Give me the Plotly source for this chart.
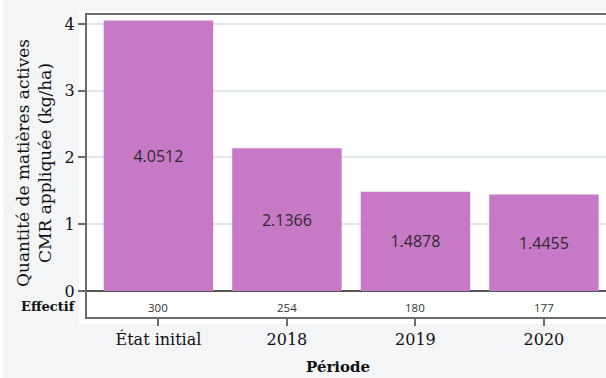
import plotly.graph_objects as go

# Data
periodes = ["État initial", "2018", "2019", "2020"]
quantites = [4.0512, 2.1366, 1.4878, 1.4455]
effectifs = [300, 254, 180, 177]
y_ticks = [0, 1, 2, 3, 4]

W, H = 606, 378
L, R, T, B = 87, 0, 15, 61          # plot-area margins (px)
PW, PH = W - L - R, H - T - B

def px_x(px):
    return (px - L) / PW

def px_y(py):
    return (H - B - py) / PH

serif = "DejaVu Serif"
sans = "Open Sans"
frame_col = "#6b6b6b"

fig = go.Figure()
fig.add_trace(go.Bar(
    x=periodes,
    y=quantites,
    marker=dict(color="#c779c7", line=dict(width=0)),
    text=[f"{v:.4f}" for v in quantites],
    textposition="inside",
    insidetextanchor="middle",
    textangle=0,
    textfont=dict(family=sans, size=16, color="#2b2b2b"),
    constraintext="none",
    hoverinfo="skip",
))

annotations = []
# sample sizes row under the zero line (x given as category index)
for i, n in enumerate(effectifs):
    annotations.append(dict(
        x=i, y=-0.25, xref="x", yref="y", text=str(n), showarrow=False,
        font=dict(family=sans, size=11.5, color="#333333"),
        xanchor="center", yanchor="middle",
    ))
annotations += [
    dict(x=px_x(78), y=px_y(306), xref="paper", yref="paper", text="<b>Effectif</b>",
         showarrow=False, xanchor="right", yanchor="middle",
         font=dict(family=serif, size=13, color="#111111")),
    dict(x=px_x(338), y=px_y(367), xref="paper", yref="paper", text="<b>Période</b>",
         showarrow=False, xanchor="center", yanchor="middle",
         font=dict(family=serif, size=15, color="#111111")),
    dict(x=px_x(34), y=px_y(163), xref="paper", yref="paper",
         text="Quantité de matières actives<br>CMR appliquée (kg/ha)",
         showarrow=False, textangle=-90, xanchor="center", yanchor="middle",
         font=dict(family=serif, size=17, color="#111111")),
]

shapes = [
    # white panel behind the plotting frame
    dict(type="rect", xref="paper", yref="paper", layer="below",
         x0=px_x(79), x1=px_x(W + 5), y0=px_y(324), y1=px_y(11),
         fillcolor="white", line=dict(width=0)),
    # thin white strip on the left edge
    dict(type="rect", xref="paper", yref="paper", layer="below",
         x0=px_x(0), x1=px_x(3), y0=px_y(H), y1=px_y(0),
         fillcolor="white", line=dict(width=0)),
]

fig.update_layout(
    width=W, height=H,
    margin=dict(l=L, r=R, t=T, b=B, pad=0),
    paper_bgcolor="#f4f5f7",
    plot_bgcolor="white",
    bargap=0.148,
    showlegend=False,
    annotations=annotations,
    shapes=shapes,
    xaxis=dict(
        type="category",
        range=[-0.556, 3.483],
        showgrid=False,
        showline=True, linecolor=frame_col, linewidth=2, mirror=True,
        ticks="outside", ticklen=7, tickwidth=1.5, tickcolor=frame_col,
        tickfont=dict(family=serif, size=16, color="#111111"),
        fixedrange=True,
    ),
    yaxis=dict(
        range=[-0.39, 4.135],
        tickvals=y_ticks,
        ticktext=[str(v) for v in y_ticks],
        showgrid=True, gridcolor="#e2e8e5", gridwidth=1.5,
        zeroline=True, zerolinecolor="#555555", zerolinewidth=1.5,
        showline=True, linecolor=frame_col, linewidth=2,
        ticks="outside", ticklen=7, tickwidth=1.5, tickcolor=frame_col,
        tickfont=dict(family=serif, size=16, color="#111111"),
        fixedrange=True,
    ),
)

fig.write_html("out.html", config={"displayModeBar": False})
